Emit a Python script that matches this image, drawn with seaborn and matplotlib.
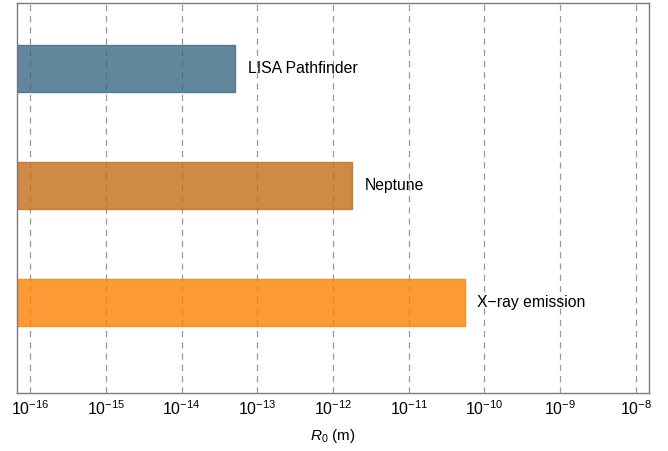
import matplotlib
matplotlib.use("Agg")
import matplotlib.pyplot as plt
import pandas as pd
import seaborn as sns

# bounds on R0 from each experiment (metres)
names = ["LISA Pathfinder", "Neptune", "X\u2212ray emission"]
r0_bound = [5.1e-14, 1.8e-12, 5.5e-11]
colors = ["#3b6883", "#c46d16", "#fc8102"]

df = pd.DataFrame({"name": names, "R0": r0_bound})

sns.set_style("white")
plt.rcParams["font.family"] = ["Liberation Sans", "DejaVu Sans"]
plt.rcParams["mathtext.fontset"] = "custom"
plt.rcParams["mathtext.rm"] = "Liberation Sans"
plt.rcParams["mathtext.it"] = "Liberation Sans:italic"
plt.rcParams["text.color"] = "black"
plt.rcParams["xtick.color"] = "black"
plt.rcParams["axes.labelcolor"] = "black"

fig = plt.figure(figsize=(6.68, 4.51), dpi=100)
ax = fig.add_axes([17 / 668, 1 - 392.7 / 451, (648.7 - 17) / 668, (392.7 - 3) / 451])

ax.set_xscale("log")
sns.barplot(data=df, x="R0", y="name", hue="name", palette=colors, orient="h",
            width=0.4, alpha=0.8, saturation=1, legend=False, ax=ax)

for bar, c in zip(ax.patches, colors):
    bar.set_edgecolor(c)
    bar.set_linewidth(1)

for i, (n, v) in enumerate(zip(names, r0_bound)):
    ax.annotate(n, xy=(v, i), xytext=(9, 0), textcoords="offset points",
                va="center", ha="left", fontsize=11.3)

ax.set_xlim(10 ** -16.172, 10 ** -7.832)
ax.set_ylim(2.771, -0.56)
ax.set_xticks([10.0 ** e for e in range(-16, -7)])
ax.minorticks_off()
ax.tick_params(axis="x", length=0, labelsize=11.5, pad=5)
ax.set_yticks([])
ax.set_ylabel("")
ax.set_xlabel("$R_0$ (m)", fontsize=11, labelpad=6)

ax.grid(axis="x", linestyle=(0, (5, 4)), color="#999999", linewidth=0.9)
ax.set_axisbelow(True)
for s in ax.spines.values():
    s.set_color("#7a7a7a")
    s.set_linewidth(1)

fig.savefig("out.png", dpi=100)
